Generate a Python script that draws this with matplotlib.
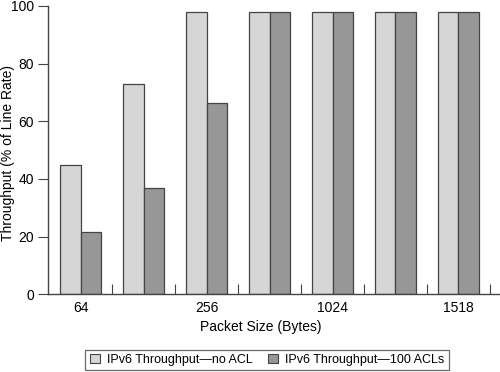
import matplotlib.pyplot as plt
from matplotlib.patches import Patch

# packet sizes in bytes; only every other group gets a label
tick_labels = ["64", "", "256", "", "1024", "", "1518"]
no_acl = [44.7, 72.8, 98, 98, 98, 98, 98]
with_acl = [21.7, 37.0, 66.3, 98, 98, 98, 98]
series_names = ["IPv6 Throughput\u2014no ACL", "IPv6 Throughput\u2014100 ACLs"]

plt.rcParams['font.family'] = ['Liberation Sans', 'DejaVu Sans']

light = "#d6d6d6"
dark = "#979797"
edge = "#444444"

fig = plt.figure(figsize=(5, 3.72), dpi=100)
ax = fig.add_axes([0.096, 0.209, 0.904, 0.775])

x = list(range(len(no_acl)))
w = 0.325
ax.bar([i - w / 2 for i in x], no_acl, width=w, color=light, edgecolor=edge, linewidth=0.9)
ax.bar([i + w / 2 for i in x], with_acl, width=w, color=dark, edgecolor=edge, linewidth=0.9)

ax.set_xlim(-0.52, 6.66)
ax.set_ylim(0, 100)

# little marks between the groups, pointing up
ax.set_xticks([i + 0.5 for i in x])
ax.set_xticklabels([])
ax.tick_params(axis='x', which='major', direction='in', length=7, width=0.8, color=edge)
ax.set_xticks(x, minor=True)
ax.set_xticklabels(tick_labels, minor=True, fontsize=10)
ax.tick_params(axis='x', which='minor', length=0, pad=5)

ax.set_yticks([0, 20, 40, 60, 80, 100])
ax.tick_params(axis='y', direction='out', length=7, width=0.8, color=edge,
               labelsize=10, pad=3)

for s in ['top', 'right']:
    ax.spines[s].set_visible(False)
for s in ['left', 'bottom']:
    ax.spines[s].set_color(edge)
    ax.spines[s].set_linewidth(1.0)

fig.text(261 / 500, 1 - 327 / 372, "Packet Size (Bytes)", fontsize=10,
         ha='center', va='center')
fig.text(8 / 500, 1 - 153 / 372, "Throughput (% of Line Rate)", fontsize=10,
         ha='center', va='center', rotation=90)

handles = [Patch(facecolor=light, edgecolor=edge, linewidth=0.8),
           Patch(facecolor=dark, edgecolor=edge, linewidth=0.8)]
leg = fig.legend(handles, series_names, loc='center', bbox_to_anchor=(0.534, 0.0323),
                 ncol=2, fontsize=9, frameon=True, fancybox=False, handlelength=0.8,
                 handleheight=0.8, handletextpad=0.6, columnspacing=1.2,
                 borderpad=0.35, borderaxespad=0)
leg.get_frame().set_edgecolor(edge)
leg.get_frame().set_linewidth(0.9)

fig.savefig("out.png", dpi=100)
